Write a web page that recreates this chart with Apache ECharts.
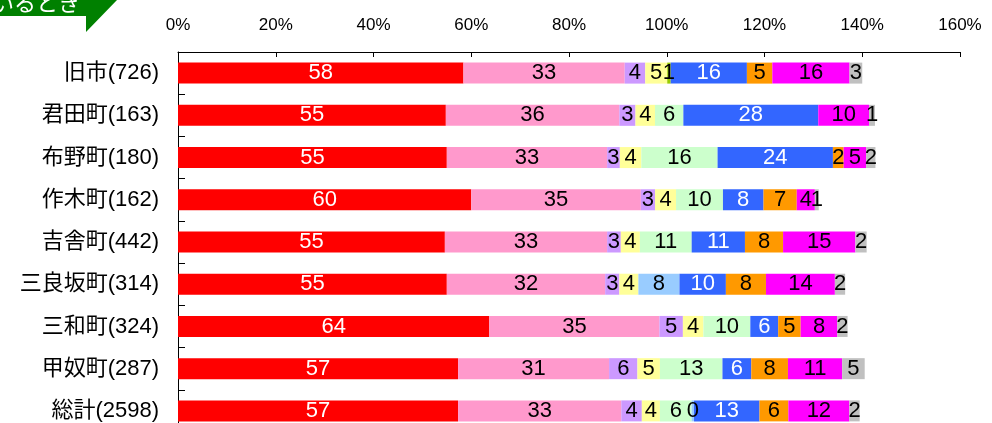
<!DOCTYPE html>
<html>
<head>
<meta charset="utf-8">
<script src="https://cdn.jsdelivr.net/npm/echarts@6/dist/echarts.min.js"></script>
<style>
html,body{margin:0;padding:0;background:#fff;}
#chart{width:992px;height:423px;}
</style>
</head>
<body>
<div id="chart"></div>
<script>
const categories = ['旧市(726)','君田町(163)','布野町(180)','作木町(162)','吉舎町(442)','三良坂町(314)','三和町(324)','甲奴町(287)','総計(2598)'];
const xTicks = [0,20,40,60,80,100,120,140,160];

const sRed        = [58.4, 54.8, 55.0, 60.0, 54.6, 55.0, 63.7, 57.3, 57.3];
const sPink       = [33.0, 35.5, 32.8, 34.7, 33.2, 32.4, 34.8, 30.9, 33.4];
const sLavender   = [4.2, 3.3, 2.6, 2.9, 2.8, 2.9, 4.8, 5.8, 4.2];
const sYellow     = [4.5, 4.0, 4.4, 4.3, 3.9, 3.9, 4.2, 4.6, 3.7];
const sYellowGreen= [0.7, 0, 0, 0, 0, 0, 0, 0, 0];
const sLightGreen = [0, 5.8, 15.6, 9.6, 10.6, 0, 9.6, 12.8, 6.49];
const sLightBlue  = [0, 0, 0, 0, 0, 8.4, 0, 0, 0.49];
const sBlue       = [15.6, 27.6, 23.6, 8.3, 10.9, 9.5, 5.7, 5.9, 13.4];
const sOrange     = [5.2, 0, 2.2, 6.8, 7.8, 8.2, 4.6, 7.5, 5.9];
const sMagenta    = [15.8, 10.4, 4.6, 3.7, 14.8, 14.1, 7.5, 11.1, 12.49];
const sGray       = [2.6, 1.2, 1.9, 0.8, 2.3, 2.1, 2.1, 4.6, 2.1];

const seriesDefs = [
  {data: sRed, color: '#FF0000', text: '#FFFFFF'},
  {data: sPink, color: '#FF99CC', text: '#000000'},
  {data: sLavender, color: '#CC99FF', text: '#000000'},
  {data: sYellow, color: '#FFFF99', text: '#000000'},
  {data: sYellowGreen, color: '#99CC00', text: '#000000'},
  {data: sLightGreen, color: '#CCFFCC', text: '#000000'},
  {data: sLightBlue, color: '#99CCFF', text: '#000000'},
  {data: sBlue, color: '#3366FF', text: '#FFFFFF'},
  {data: sOrange, color: '#FF9900', text: '#000000'},
  {data: sMagenta, color: '#FF00FF', text: '#000000'},
  {data: sGray, color: '#C0C0C0', text: '#000000'}
];

const FONT = '"Liberation Sans", Arial, "Noto Sans CJK JP", sans-serif';

const chart = echarts.init(document.getElementById('chart'), null, {renderer: 'canvas'});
chart.setOption({
  animation: false,
  backgroundColor: '#FFFFFF',
  grid: {left: 178, top: 52, width: 782, height: 380, containLabel: false, outerBoundsMode: 'none'},
  xAxis: {
    type: 'value', position: 'top', min: xTicks[0], max: xTicks[xTicks.length-1], interval: 20,
    axisLine: {show: true, lineStyle: {color: '#000', width: 1}},
    axisTick: {show: true, inside: true, length: 5, lineStyle: {color: '#000'}},
    splitLine: {show: false},
    axisLabel: {formatter: '{value}%', fontSize: 17, color: '#000', fontFamily: FONT, margin: 18}
  },
  yAxis: {
    type: 'category', inverse: true, data: categories,
    axisLine: {show: true, lineStyle: {color: '#000', width: 1}},
    axisTick: {show: true, inside: true, length: 7, alignWithLabel: false, lineStyle: {color: '#000'}},
    axisLabel: {fontSize: 22, color: '#000', fontFamily: FONT, margin: 19}
  },
  graphic: [
    {type: 'polygon', shape: {points: [[0,0],[117,0],[86,32],[86,16],[0,16]]}, style: {fill: '#008000'}, z: 10},
    {type: 'text', x: 80, y: 14, style: {text: 'ているとき', fill: '#FFFFFF', font: '22px "Noto Sans CJK JP"', align: 'right', verticalAlign: 'bottom'}, z: 11}
  ],
  series: seriesDefs.map(function(d){
    return {
      type: 'bar', stack: 'total', barWidth: 21, data: d.data,
      itemStyle: {color: d.color},
      label: {
        show: true, position: 'inside', color: d.text, fontSize: 22, fontFamily: FONT,
        formatter: function(p){ return p.value === 0 ? '' : String(Math.round(p.value)); }
      }
    };
  })
});
</script>
</body>
</html>
